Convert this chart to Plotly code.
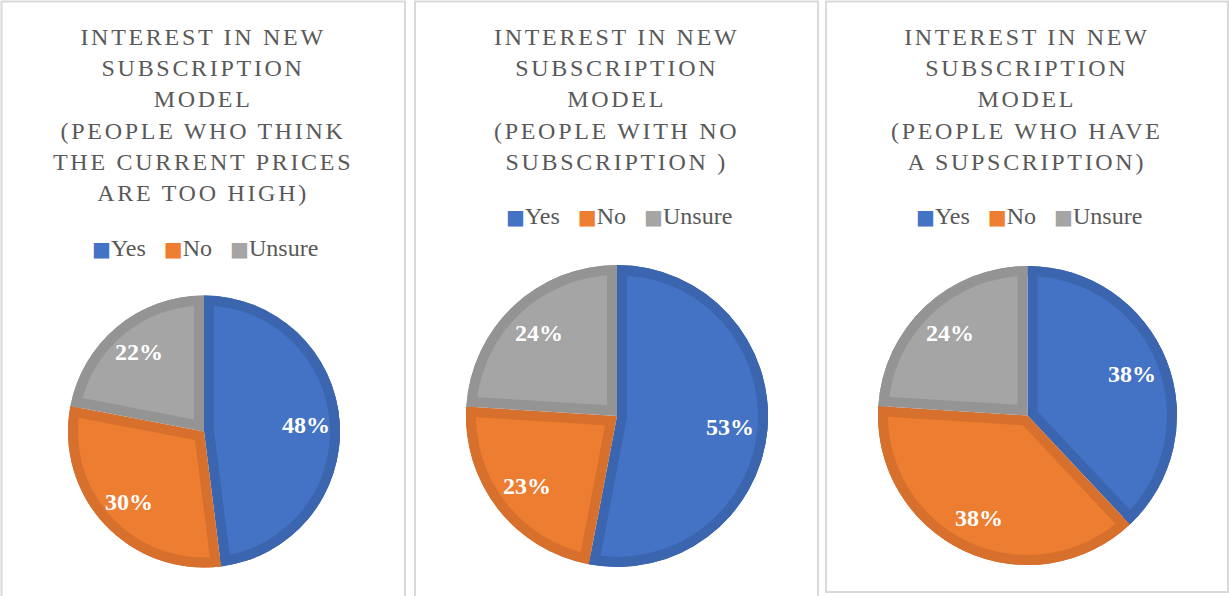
import math
import plotly.graph_objects as go

W, H = 1229, 596

# Survey data: share of answers per group (percent)
categories = ["Yes", "No", "Unsure"]
share_price_too_high = [48, 30, 22]
share_no_subscription = [53, 23, 24]
share_has_subscription = [38, 38, 24]

title_price_too_high = ["INTEREST IN NEW", "SUBSCRIPTION", "MODEL",
                        "(PEOPLE WHO THINK", "THE CURRENT PRICES", "ARE TOO HIGH)"]
title_no_subscription = ["INTEREST IN NEW", "SUBSCRIPTION", "MODEL",
                         "(PEOPLE WITH NO", "SUBSCRIPTION )"]
title_has_subscription = ["INTEREST IN NEW", "SUBSCRIPTION", "MODEL",
                          "(PEOPLE WHO HAVE", "A SUPSCRIPTION)"]

# Office-style palette: slice fill and the darker inner edge of each slice
FILL = ["#4472C4", "#ED7D31", "#A5A5A5"]
EDGE = ["#3B65AF", "#D6702C", "#949494"]
TEXT_GREY = "#595959"
SERIF = "Liberation Serif"
BAND = 10          # width of the darker inner edge, px
LABEL_POS = 0.755  # data label distance from centre, fraction of radius

# panel frames and pie placement (pixels)
panels = [
    dict(values=share_price_too_high, title=title_price_too_high,
         box=(1.5, 1.5, 405, 620), cx=204, cy=431.5, r=136, title_top=22, legend_y=248),
    dict(values=share_no_subscription, title=title_no_subscription,
         box=(415, 1.5, 818, 620), cx=617, cy=416, r=151, title_top=22, legend_y=216),
    dict(values=share_has_subscription, title=title_has_subscription,
         box=(826, 1.5, 1228, 592), cx=1027.5, cy=415.5, r=149.5, title_top=22, legend_y=216),
]

fig = go.Figure()


def px_x(x):
    return x / W


def px_y(y):
    return 1 - y / H


for p in panels:
    values, cx, cy, R = p["values"], p["cx"], p["cy"], p["r"]
    total = sum(values)
    dom = dict(x=[px_x(cx - R), px_x(cx + R)], y=[px_y(cy + R), px_y(cy - R)])
    common = dict(labels=categories, values=values, sort=False, direction="clockwise",
                  rotation=0, domain=dom, textinfo="none", showlegend=False)

    # dark base: every slice in its edge colour
    fig.add_trace(go.Pie(marker=dict(colors=EDGE, line=dict(width=0)),
                         hovertemplate="%{label}: %{percent}<extra></extra>", **common))

    # lighter face of each slice, pulled along its bisector so the radial
    # edges keep a dark band of constant width
    for i in range(len(values)):
        half = math.pi * values[i] / total
        shift = BAND / math.sin(half)
        pull = [0.0] * len(values)
        pull[i] = shift / (R - shift)
        cols = ["rgba(0,0,0,0)"] * len(values)
        cols[i] = FILL[i]
        fig.add_trace(go.Pie(marker=dict(colors=cols, line=dict(width=0)), pull=pull,
                             hoverinfo="skip", **common))

    # dark rim around the outside
    fig.add_trace(go.Pie(hole=(R - BAND) / R, marker=dict(colors=EDGE, line=dict(width=0)),
                         hoverinfo="skip", **common))

    # data labels on the slice bisectors
    cum = 0
    for v in values:
        theta = 2 * math.pi * (cum + v / 2) / total
        cum += v
        lx = cx + LABEL_POS * R * math.sin(theta)
        ly = cy - LABEL_POS * R * math.cos(theta)
        fig.add_annotation(x=px_x(lx), y=px_y(ly), xref="paper", yref="paper",
                           xanchor="center", yanchor="middle",
                           text=f"<b>{round(100 * v / total)}%</b>", showarrow=False,
                           font=dict(family=SERIF, size=24, color="white"))

    # frame
    x0, y0, x1, y1 = p["box"]
    fig.add_shape(type="rect", xref="paper", yref="paper",
                  x0=px_x(x0), x1=px_x(x1), y0=px_y(y1), y1=px_y(y0),
                  line=dict(color="#D9D9D9", width=2), fillcolor="rgba(0,0,0,0)")

    mid = (x0 + x1) / 2
    # chart title
    title_txt = "<br>".join(f'<span style="letter-spacing:2.7px">{t}</span>' for t in p["title"])
    fig.add_annotation(x=px_x(mid), y=px_y(p["title_top"]), xref="paper", yref="paper",
                       xanchor="center", yanchor="top", align="center", showarrow=False,
                       text=title_txt, font=dict(family=SERIF, size=24, color=TEXT_GREY))

    # legend row
    gap = "\u00a0\u00a0\u00a0"
    items = [f'<span style="color:{c};font-family:\'DejaVu Sans\';font-size:20px">\u25a0</span>{lab}'
             for c, lab in zip(FILL, categories)]
    fig.add_annotation(x=px_x(mid + 2), y=px_y(p["legend_y"]), xref="paper", yref="paper",
                       xanchor="center", yanchor="middle", showarrow=False,
                       text=gap.join(items), font=dict(family=SERIF, size=24, color=TEXT_GREY))

fig.update_layout(width=W, height=H, autosize=False,
                  margin=dict(l=0, r=0, t=0, b=0),
                  paper_bgcolor="white", plot_bgcolor="white", showlegend=False)

fig.write_html("out.html")
